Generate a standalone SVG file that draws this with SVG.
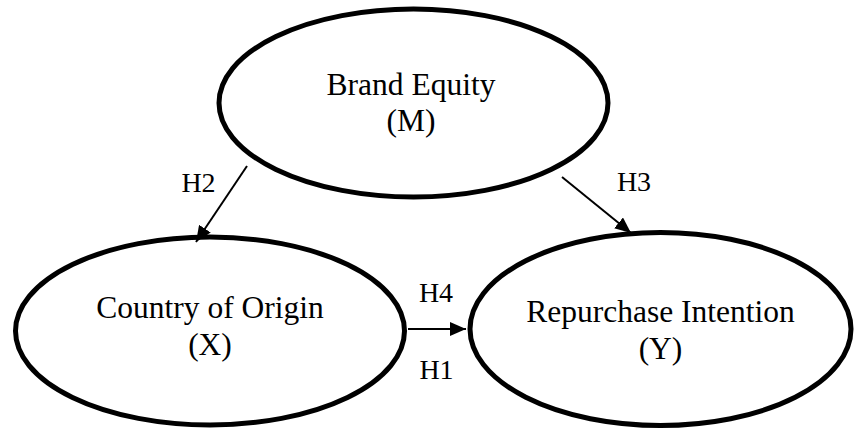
<svg xmlns="http://www.w3.org/2000/svg" width="854" height="429" viewBox="0 0 854 429">
<style>
.node{fill:#fff;stroke:#000;stroke-width:5}
.t{font-family:"Liberation Serif","Times New Roman",serif;font-size:31.5px;fill:#000;text-anchor:middle}
.lbl{font-family:"Liberation Serif","Times New Roman",serif;font-size:28px;fill:#000;text-anchor:middle}
.edge{stroke:#000;stroke-width:2;fill:none;marker-end:url(#ah)}
</style>
<defs>
<marker id="ah" markerUnits="userSpaceOnUse" markerWidth="17" markerHeight="14" refX="16" refY="7" orient="auto">
<path d="M0,0 L16,7 L0,14 z" fill="#000"/>
</marker>
</defs>
<rect width="854" height="429" fill="#fff"/>
<g id="node-m">
<ellipse class="node" cx="413.5" cy="103" rx="194.5" ry="94"/>
<text class="t" x="411" y="95">Brand Equity</text>
<text class="t" x="411" y="131">(M)</text>
</g>
<g id="node-x">
<ellipse class="node" cx="210" cy="331" rx="194.5" ry="94"/>
<text class="t" x="210" y="318">Country of Origin</text>
<text class="t" x="210" y="355">(X)</text>
</g>
<g id="node-y">
<ellipse class="node" cx="660.5" cy="329" rx="190.5" ry="96.5"/>
<text class="t" x="660.5" y="322">Repurchase Intention</text>
<text class="t" x="660.5" y="359">(Y)</text>
</g>
<g id="connectors">
<line class="edge" x1="247" y1="166" x2="196" y2="242"/>
<line class="edge" x1="562" y1="177" x2="631" y2="233"/>
<line class="edge" x1="408" y1="329" x2="466" y2="329"/>
<text class="lbl" x="198.5" y="192">H2</text>
<text class="lbl" x="634" y="191">H3</text>
<text class="lbl" x="436" y="302">H4</text>
<text class="lbl" x="436.5" y="379">H1</text>
</g>
</svg>
